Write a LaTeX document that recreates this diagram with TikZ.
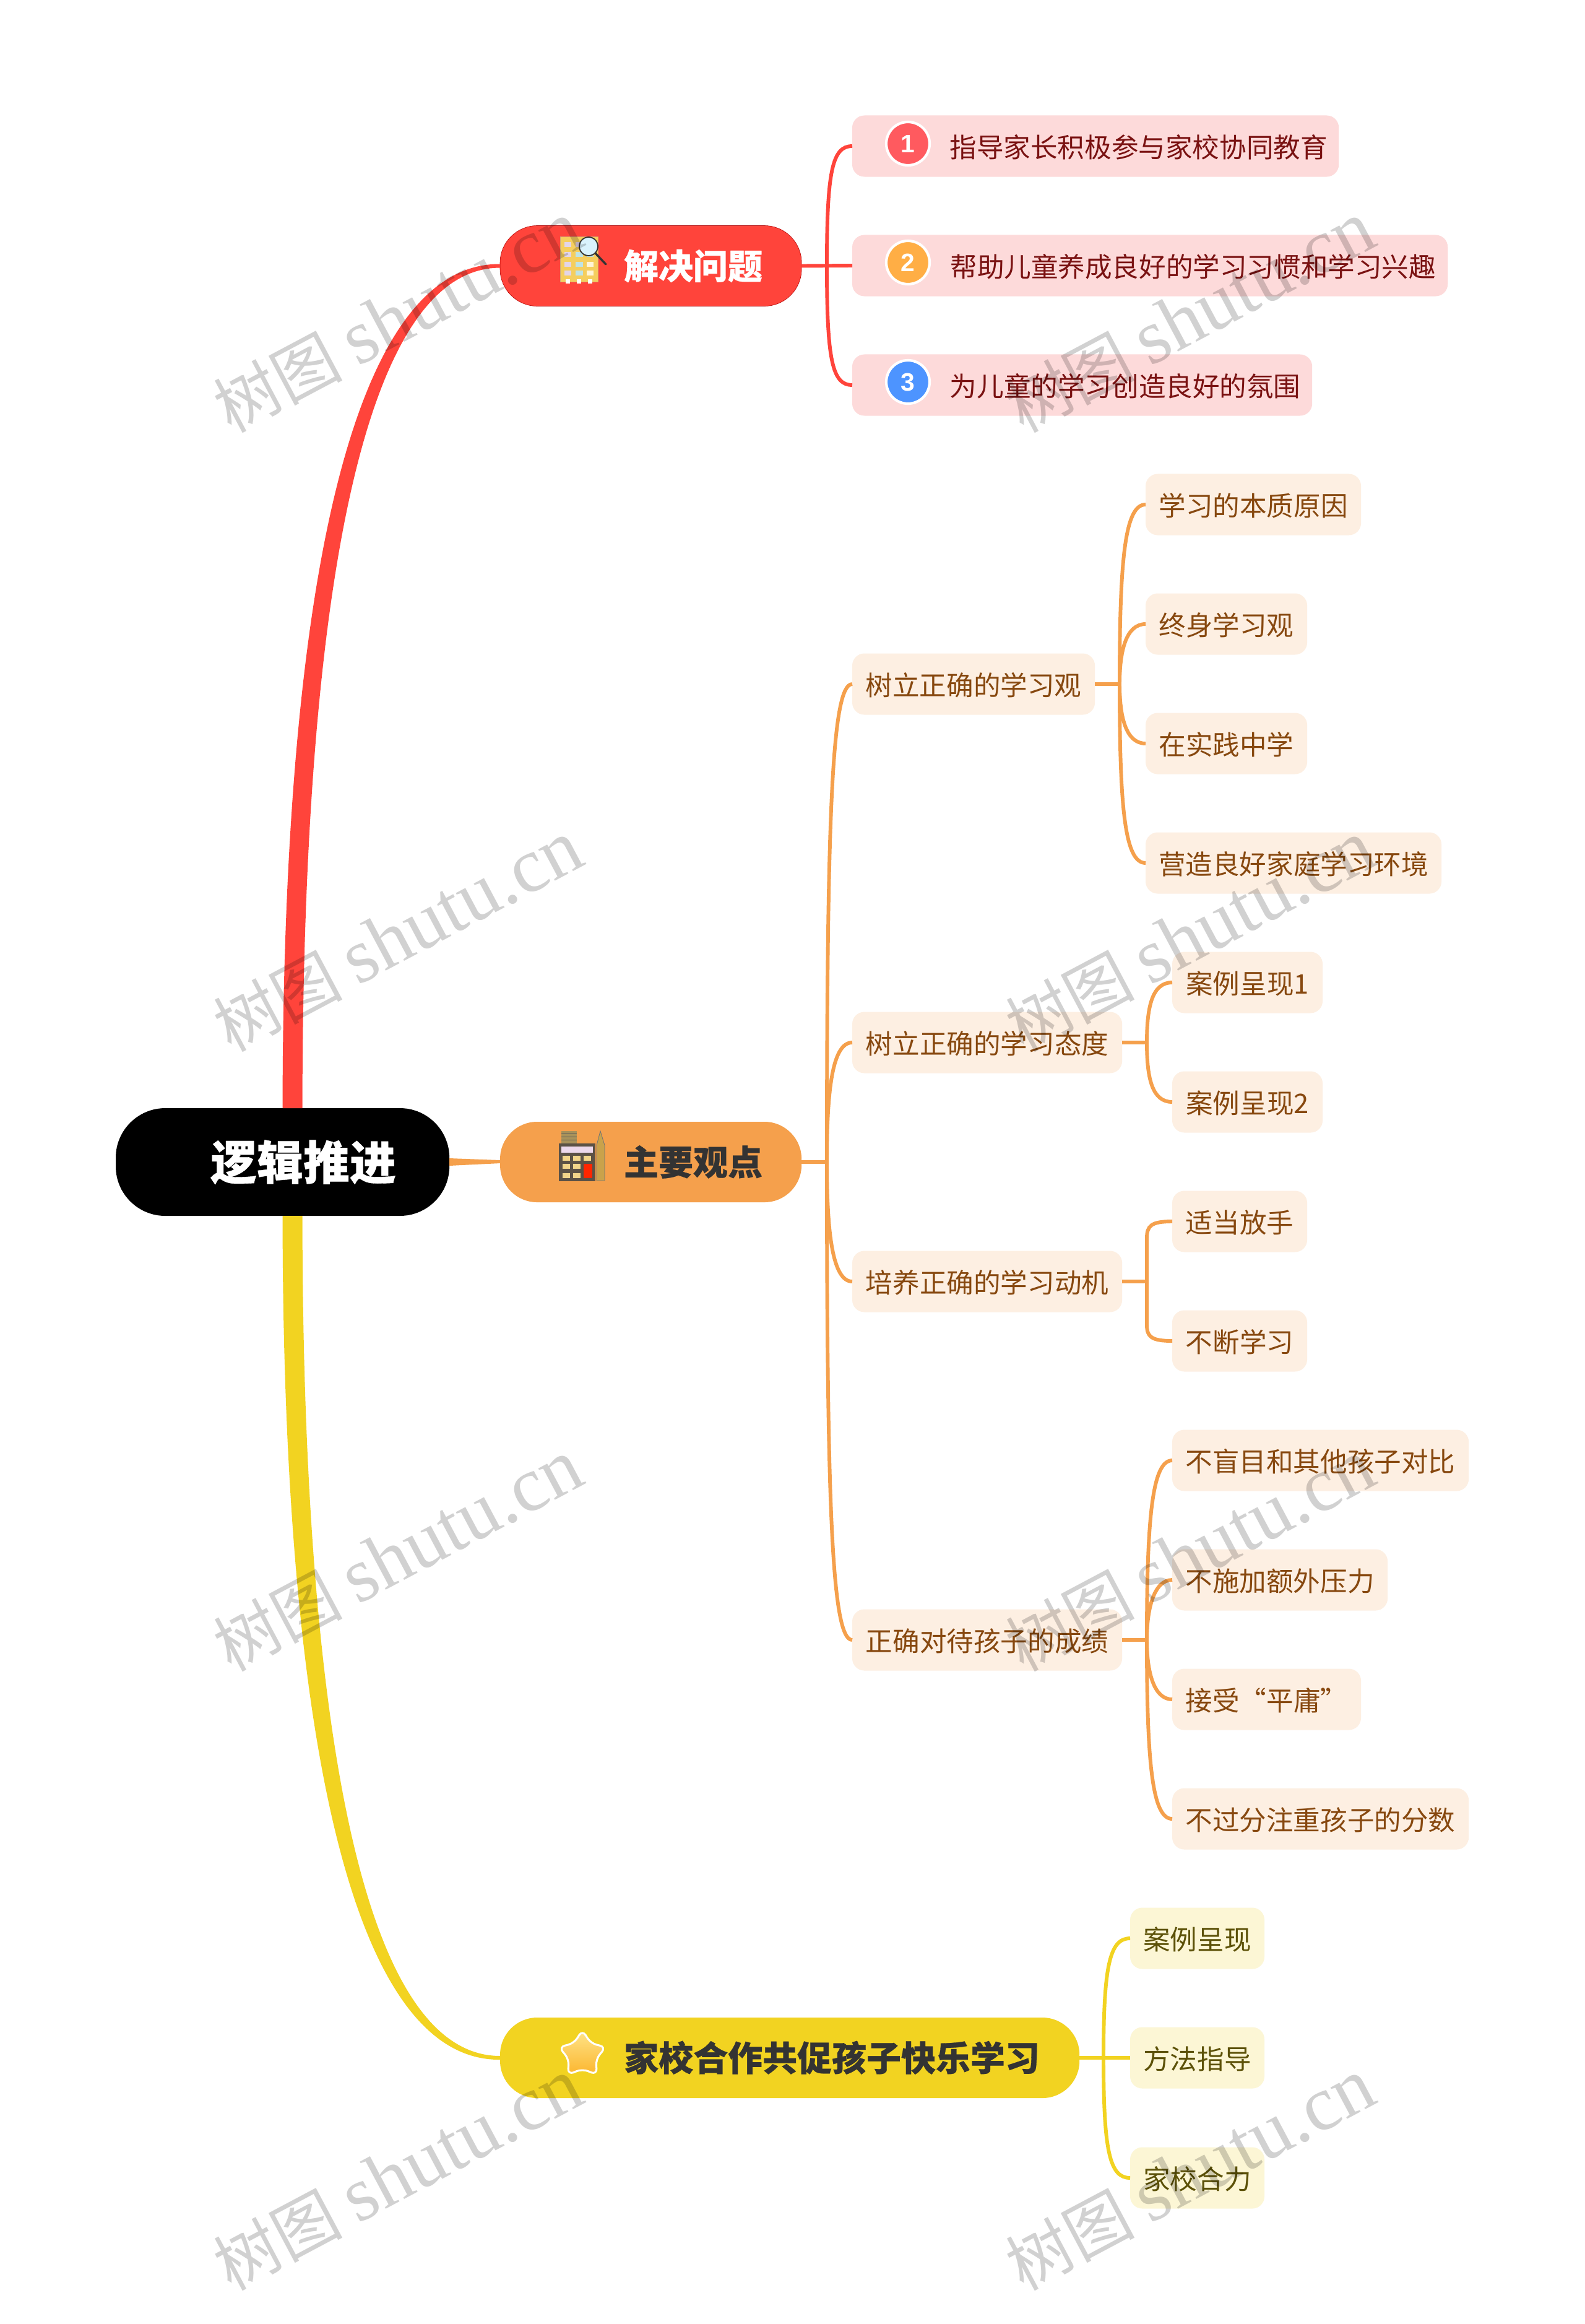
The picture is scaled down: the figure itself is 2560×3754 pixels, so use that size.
\documentclass[tikz,border=0pt]{standalone}
\usepackage{fontspec}
\setmainfont{Noto Sans CJK SC}[BoldFeatures={FakeBold=0.5}]
\newfontfamily\wmlatin{Liberation Serif}
\newfontfamily\digitfont{Liberation Sans}
\usetikzlibrary{calc,shapes.geometric}
\def\pxpt{0.7113pt}
\definecolor{redc}{HTML}{FF443B}
\definecolor{orac}{HTML}{F5A04C}
\definecolor{yelc}{HTML}{F2D321}
\definecolor{redl}{HTML}{FDDADA}
\definecolor{oral}{HTML}{FDEFE2}
\definecolor{yell}{HTML}{FCF6D5}
\definecolor{redt}{HTML}{7A1212}
\definecolor{orat}{HTML}{87480F}
\definecolor{yelt}{HTML}{5C5108}
\definecolor{dotr}{HTML}{FF5A5F}
\definecolor{doto}{HTML}{FFAE45}
\definecolor{dotb}{HTML}{4D94FF}
\tikzset{
  x=0.025cm,y=-0.025cm,
  rootbox/.style={fill=black,text=white,rounded corners=57pt,inner sep=0pt,outer sep=0pt,anchor=west,minimum height=174*\pxpt,
     font=\fontsize{53.3pt}{60pt}\selectfont\bfseries,text height=47pt,text depth=6.4pt},
  mainbox/.style={rounded corners=42.7pt,inner sep=0pt,outer sep=0pt,anchor=west,minimum height=130*\pxpt,
     font=\fontsize{39.8pt}{46pt}\selectfont\bfseries,text height=35pt,text depth=4.8pt},
  leafbox/.style={rounded corners=14pt,inner sep=0pt,outer sep=0pt,anchor=west,minimum height=99*\pxpt,
     font=\fontsize{31pt}{36pt}\selectfont,text height=30pt,text depth=3.8pt},
  rleaf/.style={leafbox,fill=redl,text=redt},
  oleaf/.style={leafbox,fill=oral,text=orat},
  yleaf/.style={leafbox,fill=yell,text=yelt},
  rline/.style={draw=redc,line width=4.2pt},
  oline/.style={draw=orac,line width=4.2pt},
  yline/.style={draw=yelc,line width=4.2pt},
  numdot/.style={circle,draw=white,line width=3pt,minimum size=70*\pxpt,inner sep=0pt,text=white,
     font=\fontsize{29pt}{32pt}\selectfont\digitfont\bfseries},
  watermark/.style={rotate=28,text=black,text opacity=0.18,inner sep=0pt,
     font=\fontsize{74pt}{90pt}\selectfont},
}
\begin{document}
\begin{tikzpicture}
\useasboundingbox (0,0) rectangle (2560,3754);
\fill[white] (0,0) rectangle (2560,3754);

\coordinate (busR) at (1336,429);
\coordinate (busO) at (1336,1877);
\coordinate (busY) at (1783,3324);
\coordinate (busO1) at (1809,1105);
\coordinate (busO2) at (1853,1684);
\coordinate (busO3) at (1853,2070);
\coordinate (busO4) at (1853,2649);

% nodes
\node[rootbox,minimum width=539*\pxpt] (root) at (187,1877) {\hspace*{47.6pt}逻辑推进};
\node[mainbox,fill=redc,text=white,draw=red!70!black,line width=.4pt,minimum width=487*\pxpt] (m1) at (808,429.5) {\hspace*{97.4pt}解决问题};
\node[mainbox,fill=orac,text=black!80,minimum width=487*\pxpt] (m2) at (808,1877) {\hspace*{97.4pt}主要观点};
\node[mainbox,fill=yelc,text=black!80,minimum width=936*\pxpt] (m3) at (808,3324) {\hspace*{96.7pt}家校合作共促孩子快乐学习};

\node[rleaf,minimum width=786*\pxpt] (r1) at (1377,236) {\hspace*{99pt}指导家长积极参与家校协同教育};
\node[rleaf,minimum width=962*\pxpt] (r2) at (1377,429) {\hspace*{99pt}帮助儿童养成良好的学习习惯和学习兴趣};
\node[rleaf,minimum width=743*\pxpt] (r3) at (1377,622) {\hspace*{99pt}为儿童的学习创造良好的氛围};

\node[oleaf,minimum width=392*\pxpt] (o1) at (1377,1105) {树立正确的学习观};
\node[oleaf,minimum width=436*\pxpt] (o2) at (1377,1684) {树立正确的学习态度};
\node[oleaf,minimum width=436*\pxpt] (o3) at (1377,2070) {培养正确的学习动机};
\node[oleaf,minimum width=436*\pxpt] (o4) at (1377,2649) {正确对待孩子的成绩};

\node[oleaf,minimum width=348*\pxpt] (o11) at (1851,815) {学习的本质原因};
\node[oleaf,minimum width=261*\pxpt] (o12) at (1851,1008) {终身学习观};
\node[oleaf,minimum width=261*\pxpt] (o13) at (1851,1201) {在实践中学};
\node[oleaf,minimum width=478*\pxpt] (o14) at (1851,1394) {营造良好家庭学习环境};
\node[oleaf,minimum width=243*\pxpt] (o21) at (1894,1587) {案例呈现1};
\node[oleaf,minimum width=243*\pxpt] (o22) at (1894,1780) {案例呈现2};
\node[oleaf,minimum width=218*\pxpt] (o31) at (1894,1973) {适当放手};
\node[oleaf,minimum width=218*\pxpt] (o32) at (1894,2166) {不断学习};
\node[oleaf,minimum width=479*\pxpt] (o41) at (1894,2359) {不盲目和其他孩子对比};
\node[oleaf,minimum width=348*\pxpt] (o42) at (1894,2552) {不施加额外压力};
\node[oleaf,minimum width=305*\pxpt] (o43) at (1894,2745) {接受“平庸”};
\node[oleaf,minimum width=479*\pxpt] (o44) at (1894,2938) {不过分注重孩子的分数};

\node[yleaf,minimum width=217*\pxpt] (y1) at (1826,3131) {案例呈现};
\node[yleaf,minimum width=217*\pxpt] (y2) at (1826,3324) {方法指导};
\node[yleaf,minimum width=217*\pxpt] (y3) at (1826,3518) {家校合力};

\node[numdot,fill=dotr] (n1) at (1467,232) {1};
\node[numdot,fill=doto] (n2) at (1467,424) {2};
\node[numdot,fill=dotb] (n3) at (1467,617) {3};

% connectors
\fill[redc] (root.north) .. controls (457,1000) and (556,425) .. ($(m1.west)+(0,-3)$)
   -- ($(m1.west)+(0,3)$) .. controls (570,433) and (489,1040) .. ($(root.north)+(32,0)$) -- cycle;
\fill[yelc] (root.south) .. controls (457,2754) and (556,3329) .. ($(m3.west)+(0,3)$)
   -- ($(m3.west)+(0,-3)$) .. controls (570,3321) and (489,2714) .. ($(root.south)+(32,0)$) -- cycle;
\fill[orac] ($(root.east)+(0,-6)$) -- ($(m2.west)+(0,-3)$) -- ($(m2.west)+(0,2)$) -- ($(root.east)+(0,6)$) -- cycle;

\draw[rline] (m1.east) -- (r2.west);
\draw[rline] (busR) .. controls (1336,275) and (1345,236) .. (r1.west);
\draw[rline] (busR) .. controls (1336,583) and (1345,622) .. (r3.west);

\draw[oline] (m2.east) -- (busO);
\draw[oline] (busO) .. controls (1336,1300) and (1345,1105) .. (o1.west);
\draw[oline] (busO) .. controls (1336,1760) and (1345,1684) .. (o2.west);
\draw[oline] (busO) .. controls (1336,1990) and (1345,2070) .. (o3.west);
\draw[oline] (busO) .. controls (1336,2450) and (1345,2649) .. (o4.west);

\draw[oline] (o1.east) -- (busO1);
\draw[oline] (busO1) .. controls (1809,900) and (1818,815) .. (o11.west);
\draw[oline] (busO1) .. controls (1809,1050) and (1820,1008) .. (o12.west);
\draw[oline] (busO1) .. controls (1809,1160) and (1820,1201) .. (o13.west);
\draw[oline] (busO1) .. controls (1809,1310) and (1818,1394) .. (o14.west);

\draw[oline] (o2.east) -- (busO2);
\draw[oline] (busO2) .. controls (1853,1625) and (1862,1587) .. (o21.west);
\draw[oline] (busO2) .. controls (1853,1743) and (1862,1780) .. (o22.west);

\draw[oline] (o3.east) -- (busO3);
\draw[oline] (busO3) -- (1853,2000) .. controls (1853,1980) and (1860,1973) .. (o31.west);
\draw[oline] (busO3) -- (1853,2140) .. controls (1853,2159) and (1860,2166) .. (o32.west);

\draw[oline] (o4.east) -- (busO4);
\draw[oline] (busO4) .. controls (1853,2450) and (1862,2359) .. (o41.west);
\draw[oline] (busO4) .. controls (1853,2600) and (1864,2552) .. (o42.west);
\draw[oline] (busO4) .. controls (1853,2700) and (1864,2745) .. (o43.west);
\draw[oline] (busO4) .. controls (1853,2850) and (1862,2938) .. (o44.west);

\draw[yline] (m3.east) -- (y2.west);
\draw[yline] (busY) .. controls (1783,3175) and (1793,3131) .. (y1.west);
\draw[yline] (busY) .. controls (1783,3475) and (1793,3518) .. (y3.west);

% icon: plan with magnifier
\definecolor{planc}{HTML}{F5CE5E}
\fill[planc,draw=brown!70,line width=.5pt] (905,382) rectangle (966,455);
\foreach \yy/\ca/\cb/\cc in {391/E3D5E8/E3D5E8/E3D5E8,407/E3D5E8/BFE3E4/BFE3E4,423/E3D5E8/BFE3E4/FFF4D6,437/E3D5E8/BFE3E4/FFF4D6}{
  \definecolor{ca}{HTML}{\ca}\definecolor{cb}{HTML}{\cb}\definecolor{cc}{HTML}{\cc}
  \fill[ca] (912,\yy) rectangle +(11,8);
  \fill[cb] (930,\yy) rectangle +(12,8);
  \fill[cc] (948,\yy) rectangle +(11,8);
}
\foreach \xx in {914,932,950}{
  \fill[white] (\xx,451) rectangle +(7,7);
}
\draw[black!80,line width=2.4pt,line cap=round] (962,409) -- (979,427);
\draw[black!80,fill=cyan!15,line width=1.3pt] (951,398) circle (15);

% icon: calculator and pen
\definecolor{calcbody}{HTML}{5B5246}
\definecolor{calcbtn}{HTML}{F1D58A}
\definecolor{calcpen}{HTML}{C9A24B}
\definecolor{calcstr}{HTML}{A8925A}
\fill[calcstr] (907,1827) rectangle (932,1847);
\foreach \yy in {1831,1836,1841}{\draw[black!65,line width=.7pt] (907,\yy) -- (932,\yy);}
\fill[calcbody] (903,1847) rectangle (962,1908);
\fill[violet!15] (907,1852) rectangle (958,1862);
\foreach \xx in {909,926,943}{
  \foreach \yy in {1867,1880,1895}{
    \fill[calcbtn] (\xx,\yy) rectangle +(12,8);
  }
}
\fill[red!70!orange] (943,1880) rectangle (957,1903);
\fill[calcpen,draw=black!55,line width=.6pt] (970,1827) -- (977,1850) -- (977,1907) -- (964,1907) -- (964,1850) -- cycle;

% icon: star
\definecolor{startop}{HTML}{FFE58A}
\definecolor{starbot}{HTML}{FBB52D}
\node[star,star points=5,star point ratio=1.75,minimum size=80*\pxpt,inner sep=0pt,rounded corners=7pt,
  draw=white,line width=2.2pt,top color=startop,bottom color=starbot] (st) at (941,3319) {};

% watermarks
\foreach \wx/\wy/\wn in {643/513/a,1923/513/b,643/1513/c,1923/1513/d,643/2513/e,1923/2513/f,643/3513/g,1923/3513/h}{
  \node[watermark] (wm\wn) at (\wx,\wy) {树图 {\wmlatin\fontsize{89pt}{90pt}\selectfont shutu.cn}};
}
\end{tikzpicture}
\end{document}
